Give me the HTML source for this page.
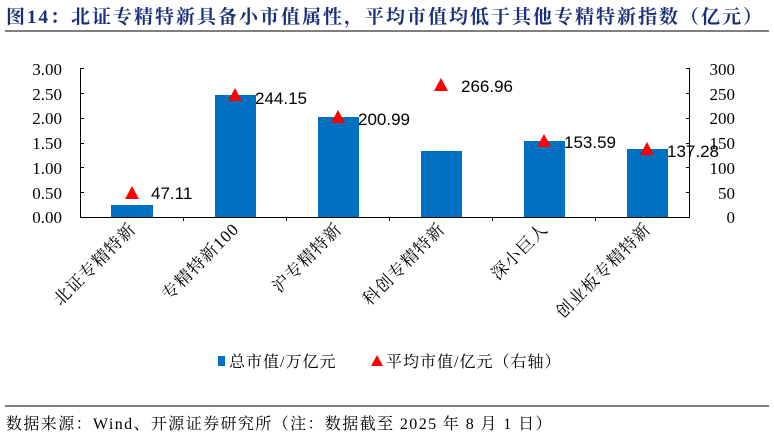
<!DOCTYPE html>
<html><head><meta charset="utf-8"><style>
body{margin:0;background:#fff;width:774px;height:437px;overflow:hidden}
svg{display:block}
.s{font-family:"Liberation Serif","Noto Serif CJK SC",serif}
.a{font-family:"Liberation Sans","DejaVu Sans",sans-serif}
</style></head><body>
<svg width="774" height="437" xmlns="http://www.w3.org/2000/svg">
<text x="6" y="23" class="s" font-size="19" font-weight="bold" fill="#1a2f7a" letter-spacing="2">图14：北证专精特新具备小市值属性，平均市值均低于其他专精特新指数（亿元）</text>
<line x1="5" y1="31" x2="769" y2="31" stroke="#333" stroke-width="1.3"/>
<g class="s" font-size="17" fill="#000">
<text x="62" y="75" text-anchor="end">3.00</text>
<text x="62" y="100" text-anchor="end">2.50</text>
<text x="62" y="124" text-anchor="end">2.00</text>
<text x="62" y="149" text-anchor="end">1.50</text>
<text x="62" y="174" text-anchor="end">1.00</text>
<text x="62" y="199" text-anchor="end">0.50</text>
<text x="62" y="223" text-anchor="end">0.00</text>
<text x="735" y="75" text-anchor="end">300</text>
<text x="735" y="100" text-anchor="end">250</text>
<text x="735" y="124" text-anchor="end">200</text>
<text x="735" y="149" text-anchor="end">150</text>
<text x="735" y="174" text-anchor="end">100</text>
<text x="735" y="199" text-anchor="end">50</text>
<text x="735" y="223" text-anchor="end">0</text>
</g>
<g fill="#0070c0">
<rect x="111" y="205" width="42" height="12"/>
<rect x="215" y="95" width="41" height="122"/>
<rect x="318" y="117" width="41" height="100"/>
<rect x="421" y="151" width="41" height="66"/>
<rect x="524" y="141" width="41" height="76"/>
<rect x="627" y="149" width="41" height="68"/>
</g>
<g stroke="#000" stroke-width="1" fill="none">
<line x1="80.5" y1="68" x2="80.5" y2="217"/>
<line x1="80" y1="217.5" x2="690" y2="217.5"/>
<line x1="689.5" y1="68" x2="689.5" y2="217"/>
<path d="M80 68.5h4M80 93.5h4M80 118.5h4M80 143.5h4M80 167.5h4M80 192.5h4M686 68.5h4M686 93.5h4M686 118.5h4M686 143.5h4M686 167.5h4M686 192.5h4"/>
<path d="M183.5 217v4M286.5 217v4M389.5 217v4M492.5 217v4M595.5 217v4"/>
</g>
<g fill="#ff0000">
<path d="M132 186l7 13h-14z"/>
<path d="M235 88l7 13h-14z"/>
<path d="M338 110l7 13h-14z"/>
<path d="M441 78l7 13h-14z"/>
<path d="M544 134l7 13h-14z"/>
<path d="M647 142l7 13h-14z"/>
</g>
<g class="a" font-size="17" fill="#000">
<text x="151" y="199">47.11</text>
<text x="255" y="104">244.15</text>
<text x="358" y="125">200.99</text>
<text x="461" y="92">266.96</text>
<text x="564" y="148">153.59</text>
<text x="667" y="157">137.28</text>
</g>
<g class="s" font-size="17" fill="#000" text-anchor="end" letter-spacing="1">
<text transform="translate(137,230) rotate(-45)">北证专精特新</text>
<text transform="translate(240,230) rotate(-45)">专精特新100</text>
<text transform="translate(343,230) rotate(-45)">沪专精特新</text>
<text transform="translate(446,230) rotate(-45)">科创专精特新</text>
<text transform="translate(549,230) rotate(-45)">深小巨人</text>
<text transform="translate(652,230) rotate(-45)">创业板专精特新</text>
</g>
<rect x="218" y="356" width="7" height="10" fill="#0070c0"/>
<text x="229" y="367" class="s" font-size="16" letter-spacing="1">总市值/万亿元</text>
<path d="M377 355l6 11h-12z" fill="#ff0000"/>
<text x="386" y="367" class="s" font-size="16" letter-spacing="1">平均市值/亿元（右轴）</text>
<line x1="5" y1="406" x2="769" y2="406" stroke="#333" stroke-width="1.3"/>
<text x="6" y="429" class="s" font-size="16" letter-spacing="1.4">数据来源：Wind、开源证券研究所（注：数据截至 2025 年 8 月 1 日）</text>
</svg>
</body></html>
